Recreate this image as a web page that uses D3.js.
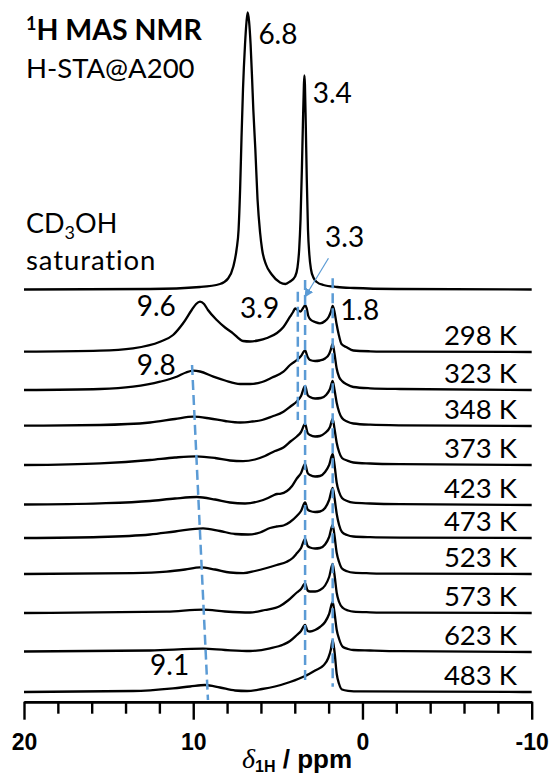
<!DOCTYPE html>
<html>
<head>
<meta charset="utf-8">
<script src="https://cdn.jsdelivr.net/npm/d3@7"></script>
<style>
  body { margin: 0; background: #fff; }
  svg { display: block; font-family: Lato, "Open Sans", sans-serif; font-variant-ligatures: none; }
</style>
</head>
<body>
<div id="chart"></div>
<script>
let width = 557;
let height = 776;

// stacked 1H spectra, top to bottom: [ppm, intensity]
let cd3oh = [[20,0],[12.55,0.5],[9.60,2.5],[8.42,5.5],[7.94,11],[7.63,23],[7.44,40],[7.32,60],[7.23,100],[7.15,150],[7.06,200],[6.94,245],[6.85,268],[6.78,277],[6.70,268],[6.61,245],[6.52,210],[6.45,180],[6.33,140],[6.20,90],[6.05,57],[5.93,40],[5.70,25],[5.36,15],[4.87,7],[4.55,5.5],[4.28,8],[3.98,13],[3.84,22],[3.74,40],[3.66,70],[3.58,120],[3.52,165],[3.46,205],[3.43,214],[3.40,205],[3.35,165],[3.29,110],[3.22,60],[3.14,35],[3.04,20],[2.90,12],[2.70,7.5],[2.31,4.5],[1.5,2.5],[0.5,1.5],[-2,0.5],[-10,0]];
let k298 = [[20,0.3],[15.51,1.3],[13.56,3.7],[11.96,10.3],[11.19,17],[10.60,28.7],[10.09,42],[9.83,48],[9.60,50.3],[9.36,48],[9.13,42],[8.61,32],[8.12,24.5],[7.65,18.7],[7.06,11],[6.64,10.5],[6.17,11.5],[5.64,14],[5.05,19],[4.67,25],[4.28,35.3],[4.10,40],[3.98,43.5],[3.87,42.5],[3.66,40.5],[3.51,44],[3.39,46.5],[3.30,44],[3.20,36],[3.04,32],[2.80,30],[2.51,28.7],[2.21,31],[2.00,35],[1.86,40.5],[1.76,46],[1.65,40],[1.53,28],[1.41,18],[1.24,8],[0.93,4.7],[0.54,1.5],[-0.45,0.7],[-2.22,0.3],[-10,0]];
let k323 = [[20,0],[15.51,1],[13.56,3.3],[11.96,8.3],[10.98,13.3],[10.43,17.5],[9.99,19.3],[9.60,18.5],[8.81,13.3],[8.12,9.5],[7.23,6],[6.64,6],[5.93,8],[5.34,12.5],[4.67,18.3],[4.28,25],[3.88,30],[3.63,34],[3.39,39.5],[3.24,33],[3.10,30],[2.80,29],[2.51,29.5],[2.21,31.5],[1.97,36],[1.86,41],[1.76,46],[1.65,36],[1.53,22],[1.38,13],[1.21,9],[0.91,5.5],[0.54,3],[-0.45,1.7],[-2.22,1],[-10,0]];
let k348 = [[20,0.3],[15.51,1],[12.55,3.5],[11.08,7],[9.99,9.3],[9.01,7.5],[8.12,5],[7.23,3.5],[6.52,4.5],[5.93,6],[5.34,9.5],[4.67,14.3],[4.22,20],[3.88,24.5],[3.63,30],[3.39,40],[3.24,31],[3.10,29],[2.80,27.5],[2.45,28],[2.15,31],[1.92,37],[1.76,45],[1.65,36],[1.52,23],[1.38,14],[1.21,8],[0.91,4.5],[0.54,2.5],[-0.45,1.3],[-2.22,0.7],[-10,0]];
let k373 = [[20,0],[15.51,1.7],[12.55,5],[11.08,7.5],[9.83,8.7],[8.71,7],[7.83,4.5],[7.06,3.8],[6.35,5.5],[5.76,9],[5.17,14],[4.67,17.5],[4.22,24],[3.88,28.5],[3.63,33],[3.39,41],[3.24,32],[3.10,30],[2.80,28.5],[2.51,29],[2.21,32],[1.92,38],[1.76,46],[1.65,36],[1.52,22],[1.38,13],[1.21,7],[0.91,4.5],[0.54,2.5],[-0.45,1.5],[-2.22,0.8],[-10,0]];
let k423 = [[20,0.5],[15.51,1.7],[12.55,4],[11.08,6.5],[9.78,8],[8.71,5.5],[7.83,2.5],[6.94,1.5],[6.17,3.5],[5.58,7],[5.28,9.5],[5.05,11],[4.87,11.2],[4.46,14],[4.16,19],[3.88,26.5],[3.63,32],[3.39,41],[3.24,32],[3.10,30],[2.80,28.5],[2.51,29],[2.21,33],[1.97,40],[1.76,51],[1.65,40],[1.52,22],[1.38,13],[1.21,7],[0.91,4],[0.54,2.3],[-0.45,1.5],[-2.22,0.8],[-10,0]];
let k473 = [[20,0],[15.51,1],[12.55,3.5],[11.08,6.5],[9.42,9.7],[8.42,7],[7.53,4],[6.76,3.5],[6.05,5.5],[5.46,10],[5.07,11.5],[4.67,12.5],[4.28,16],[3.88,22],[3.63,27],[3.39,35.5],[3.24,28.5],[3.10,27],[2.80,26],[2.51,26.5],[2.21,30],[1.97,38],[1.76,50],[1.65,40],[1.52,24],[1.38,13],[1.21,6],[0.91,3],[0.54,1.5],[-0.45,0.8],[-2.22,0.4],[-10,0]];
let k523 = [[20,0],[13.56,0.8],[11.57,2.3],[10.48,4.5],[9.60,6.7],[8.71,4.5],[7.83,1.5],[7.04,0.8],[6.35,3],[5.66,6],[5.07,9],[4.47,12.3],[4.16,15.5],[3.88,20.7],[3.63,26],[3.39,35],[3.24,28],[3.10,26.5],[2.80,25.5],[2.51,26],[2.21,29.5],[1.97,37],[1.76,49],[1.65,38],[1.52,21],[1.38,12],[1.21,5.5],[0.91,2.8],[0.54,1.3],[-0.45,0.7],[-2.22,0.3],[-10,0]];
let k573 = [[20,0],[11.57,1.3],[9.42,3.3],[8.12,1.5],[6.64,0.5],[5.76,3],[4.87,7],[4.40,12.5],[3.88,20.5],[3.63,24],[3.39,29.5],[3.24,22.5],[3.10,21.5],[2.80,21.5],[2.51,23],[2.21,27.5],[1.97,36],[1.76,49],[1.65,38],[1.52,20],[1.38,11],[1.15,5],[0.85,2.5],[0.54,1.3],[-0.45,0.7],[-2.22,0.3],[-10,0]];
let k623 = [[20,0.5],[12.55,1.5],[9.42,3.3],[8.12,2],[6.64,1],[5.46,3.7],[4.67,7.5],[4.28,11],[3.88,17],[3.63,21],[3.39,27],[3.24,21],[3.10,20.5],[2.80,22],[2.51,25],[2.21,30],[1.97,38],[1.76,50],[1.65,39],[1.52,22],[1.38,13],[1.15,5],[0.85,3],[0.54,2],[-0.45,1.5],[-2.22,0.8],[-10,0]];
let k483 = [[20,0],[13.56,1],[11.19,3.7],[10.19,5.5],[9.30,7],[8.42,4.5],[7.53,1.5],[6.82,1],[5.93,3],[5.17,5.5],[4.28,10],[3.39,16],[2.80,21.5],[2.31,26.5],[2.02,34],[1.86,43],[1.76,52],[1.65,40],[1.52,18],[1.38,8],[1.21,2.5],[0.85,1.2],[0.14,0.6],[-10,0]];

let spectra = [cd3oh, k298, k323, k348, k373, k423, k473, k523, k573, k623, k483];
let temperatures = ["", "298 K", "323 K", "348 K", "373 K", "423 K", "473 K", "523 K", "573 K", "623 K", "483 K"];
let stackOffsets = [402.5, 340, 302, 266, 227, 187, 154, 118, 79, 40, 0];

// peak labels: [text, ppm, level]
let peakLabels = [["6.8", 6.15, 648], ["3.4", 2.94, 588.7], ["3.3", 2.21, 445.3], ["9.6", 13.34, 376],
    ["3.9", 7.23, 373.7], ["1.8", 1.32, 372], ["9.8", 13.34, 317], ["9.1", 12.55, 17]];
// dashed guides: [ppm top, level top, ppm bottom, level bottom]
let guides = [[10.07, 327, 9.13, -8], [3.82, 400.3, 3.82, 272], [3.39, 412, 3.39, 7], [1.76, 413.7, 1.76, 5.3]];
let arrow3p3 = [[2.01, 433.7], [3.39, 395.3]];

let majorTicks = [20, 10, 0, -10];
let minorTicks = [18, 16, 14, 12, 8, 6, 4, 2, -2, -4, -6, -8];

let blue = "#5B9BD5";
let axisY = 701.7;

let x = d3.scaleLinear().domain([20, -10]).range([24, 531.7]);
let y = d3.scaleLinear().domain([0, 692]).range([692, 0]);

let svg = d3.select("#chart").append("svg")
    .attr("width", width).attr("height", height);

let defs = svg.append("defs");
defs.append("marker")
    .attr("id", "head")
    .attr("viewBox", "0 0 10 10")
    .attr("refX", 9).attr("refY", 5)
    .attr("markerWidth", 9).attr("markerHeight", 9)
    .attr("markerUnits", "userSpaceOnUse")
    .attr("orient", "auto")
    .append("path").attr("d", "M0,0 L10,5 L0,10 z").attr("fill", blue);

// spectra
spectra.forEach((s, i) => {
    let off = stackOffsets[i];
    let line = d3.line()
        .x(d => x(d[0]))
        .y(d => y(d[1] + off))
        .curve(d3.curveMonotoneX);
    svg.append("path")
        .datum(s)
        .attr("d", line)
        .attr("fill", "none")
        .attr("stroke", "#000")
        .attr("stroke-width", 2.3)
        .attr("stroke-linejoin", "round");
    if (temperatures[i]) {
        svg.append("text")
            .attr("x", 517).attr("y", y(off) - 7.5)
            .attr("text-anchor", "end")
            .attr("font-size", 27.5)
            .text(temperatures[i]);
    }
});

// guides
svg.selectAll(".guide").data(guides).enter().append("line")
    .attr("class", "guide")
    .attr("x1", d => x(d[0])).attr("y1", d => y(d[1]))
    .attr("x2", d => x(d[2])).attr("y2", d => y(d[3]))
    .attr("stroke", blue).attr("stroke-width", 2.5)
    .attr("stroke-dasharray", "10,5");

svg.append("line")
    .attr("x1", x(arrow3p3[0][0])).attr("y1", y(arrow3p3[0][1]))
    .attr("x2", x(arrow3p3[1][0])).attr("y2", y(arrow3p3[1][1]))
    .attr("stroke", blue).attr("stroke-width", 1.2)
    .attr("marker-end", "url(#head)");

// peak labels
svg.selectAll(".peak").data(peakLabels).enter().append("text")
    .attr("class", "peak")
    .attr("x", d => x(d[1])).attr("y", d => y(d[2]))
    .attr("font-size", 28)
    .text(d => d[0]);

// titles
let t1 = svg.append("text").attr("x", 26).attr("y", 40)
    .attr("font-size", 28.5).attr("font-weight", "bold");
t1.append("tspan").attr("font-size", 18).attr("dy", -10).text("1");
t1.append("tspan").attr("dy", 10).text("H MAS NMR");
svg.append("text").attr("x", 26).attr("y", 78).attr("font-size", 27.5).text("H-STA@A200");
let t3 = svg.append("text").attr("x", 26).attr("y", 233).attr("font-size", 27);
t3.append("tspan").text("CD");
t3.append("tspan").attr("font-size", 18).attr("dy", 6).text("3");
t3.append("tspan").attr("dy", -6).text("OH");
svg.append("text").attr("x", 26).attr("y", 270).attr("font-size", 27.5)
    .attr("letter-spacing", 0.9).text("saturation");

// axis
let axisFont = "'Liberation Sans', Arial, sans-serif";
let gMinor = svg.append("g").attr("transform", `translate(0,${axisY})`)
    .call(d3.axisBottom(x).tickValues(minorTicks).tickSize(12).tickSizeOuter(0).tickFormat(""));
let gMajor = svg.append("g").attr("transform", `translate(0,${axisY})`)
    .call(d3.axisBottom(x).tickValues(majorTicks).tickSize(18).tickSizeOuter(0).tickPadding(14)
        .tickFormat(d => String(d)));
[gMinor, gMajor].forEach(g => {
    g.select(".domain").attr("stroke", "#000").attr("stroke-width", 2.6);
    g.selectAll(".tick line").attr("stroke", "#000").attr("stroke-width", 2.4);
});
gMajor.selectAll(".tick text")
    .attr("fill", "#000")
    .attr("font-family", axisFont)
    .attr("font-size", 23)
    .attr("font-weight", "bold");

let xt = svg.append("text").attr("x", 242).attr("y", 768)
    .attr("font-family", axisFont).attr("font-weight", "bold").attr("font-size", 26);
xt.append("tspan").attr("font-family", "'Liberation Serif', 'DejaVu Serif', serif")
    .attr("font-style", "italic").attr("font-weight", "normal").attr("font-size", 28).text("δ");
xt.append("tspan").attr("font-size", 16).attr("dy", 4).text("1H");
xt.append("tspan").attr("dy", -4).text(" / ppm");
</script>
</body>
</html>
